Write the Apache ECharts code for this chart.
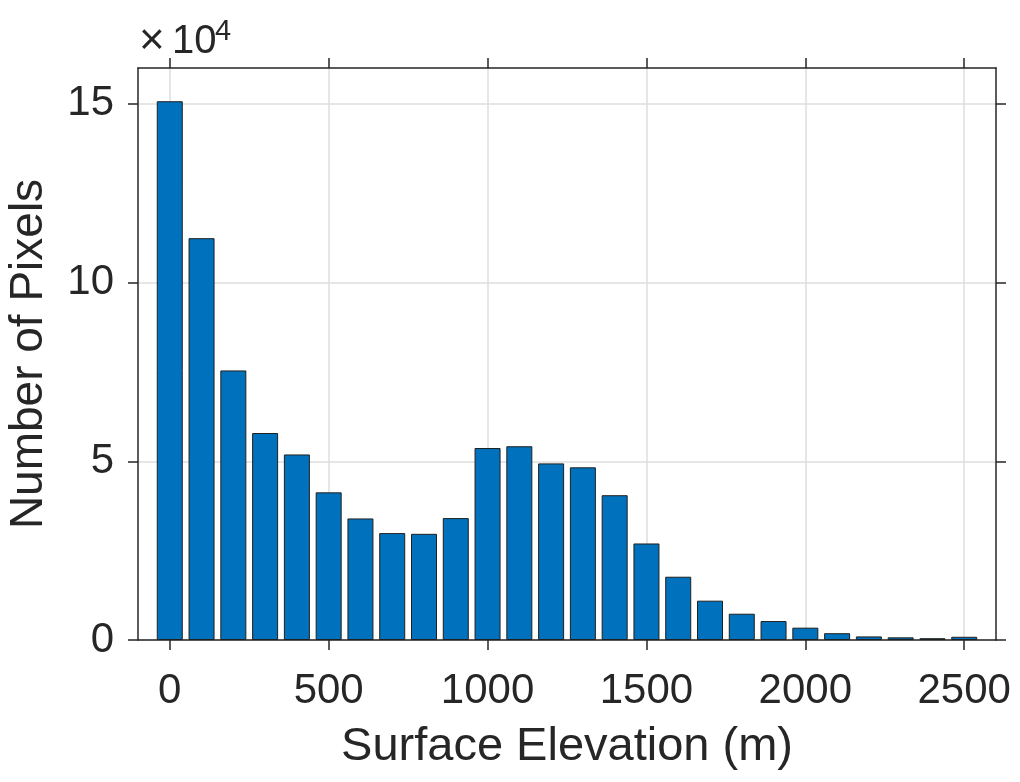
<!DOCTYPE html>
<html>
<head>
<meta charset="utf-8">
<script src="https://cdn.jsdelivr.net/npm/echarts@6/dist/echarts.min.js"></script>
<style>
  html, body { margin: 0; padding: 0; background: #fff; }
  #chart { width: 1020px; height: 782px; }
</style>
</head>
<body>
<div id="chart"></div>
<script>
// bin centres (m) and counts
const binCentres = [0, 100, 200, 300, 400, 500, 600, 700, 800, 900, 1000, 1100, 1200,
  1300, 1400, 1500, 1600, 1700, 1800, 1900, 2000, 2100, 2200, 2300, 2400, 2500]
const pixelCounts = [150700, 112400, 75400, 57900, 51900, 41300, 34000, 29900, 29700, 34100,
  53700, 54200, 49400, 48300, 40500, 27000, 17700, 11000, 7350, 5300, 3450, 1900, 1000, 750, 500, 900]
const xTicks = [0, 500, 1000, 1500, 2000, 2500]
const yTicks = [0, 50000, 100000, 150000]

const font = 'Liberation Sans, Arial, Helvetica, sans-serif'
const ink = '#262626'
const gridGray = '#dedede'

const chart = echarts.init(document.getElementById('chart'))

const barData = binCentres.map((c, i) => [c, pixelCounts[i]])

// box edges: ticks only, no labels
function mirrorAxis (position, min, max, ticks) {
  return {
    type: 'value',
    position: position,
    min: min,
    max: max,
    axisLine: { show: true, onZero: false, lineStyle: { color: ink, width: 1.5 } },
    axisTick: { show: true, length: 10, lineStyle: { color: ink, width: 1.5 }, customValues: ticks },
    axisLabel: { show: false },
    splitLine: { show: false }
  }
}

const option = {
  animation: false,
  backgroundColor: '#fff',
  grid: { left: 138, right: 24, top: 68, bottom: 142, outerBoundsMode: 'none' },
  xAxis: [
    {
      type: 'value',
      position: 'bottom',
      min: -100,
      max: 2600,
      name: 'Surface Elevation (m)',
      nameLocation: 'middle',
      nameGap: 84,
      nameTextStyle: { fontFamily: font, fontSize: 47, color: ink },
      axisLine: { onZero: false, lineStyle: { color: ink, width: 1.5 } },
      axisTick: { length: 10, lineStyle: { color: ink, width: 1.5 }, customValues: xTicks },
      axisLabel: {
        customValues: xTicks,
        margin: 30,
        fontFamily: font,
        fontSize: 42,
        color: ink,
        formatter: v => String(v)
      },
      splitLine: { show: true, lineStyle: { color: gridGray, width: 1.5 } }
    },
    mirrorAxis('top', -100, 2600, xTicks)
  ],
  yAxis: [
    {
      type: 'value',
      position: 'left',
      min: 0,
      max: 160000,
      name: 'Number of Pixels',
      nameLocation: 'middle',
      nameGap: 86,
      nameTextStyle: { fontFamily: font, fontSize: 46, color: ink },
      axisLine: { show: true, onZero: false, lineStyle: { color: ink, width: 1.5 } },
      axisTick: { show: true, length: 10, lineStyle: { color: ink, width: 1.5 }, customValues: yTicks },
      axisLabel: {
        customValues: yTicks,
        margin: 24,
        fontFamily: font,
        fontSize: 42,
        color: ink,
        formatter: v => String(v / 10000)
      },
      splitLine: { show: true, lineStyle: { color: gridGray, width: 1.5 } }
    },
    mirrorAxis('right', 0, 160000, yTicks)
  ],
  graphic: [
    {
      type: 'text',
      left: 139,
      top: 20,
      style: { text: '×', fontFamily: font, fontSize: 44, fill: ink }
    },
    {
      type: 'text',
      left: 172,
      top: 22,
      style: { text: '10', fontFamily: font, fontSize: 40, fill: ink }
    },
    {
      type: 'text',
      left: 215,
      top: 17,
      style: { text: '4', fontFamily: font, fontSize: 29, fill: ink }
    }
  ],
  series: [
    {
      type: 'bar',
      xAxisIndex: 0,
      yAxisIndex: 0,
      data: barData,
      barWidth: 26,
      itemStyle: { color: '#0072BD', borderColor: '#1f1f1f', borderWidth: 1 }
    }
  ]
}

chart.setOption(option)
</script>
</body>
</html>
